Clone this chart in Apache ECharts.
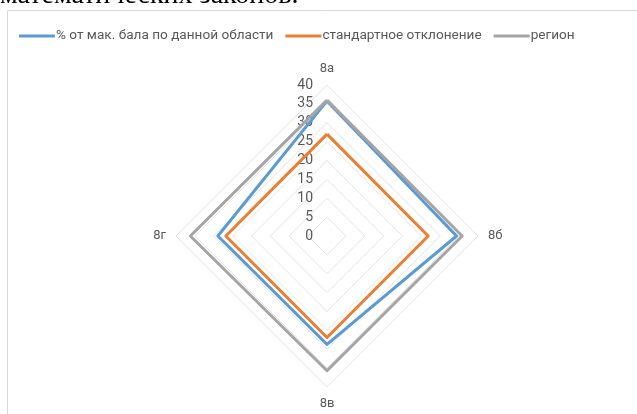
<!DOCTYPE html>
<html><head><meta charset="utf-8">
<script src="https://cdn.jsdelivr.net/npm/echarts@6/dist/echarts.min.js"></script>
<style>html,body{margin:0;padding:0;background:#fff}#c{width:637px;height:414px}</style>
</head><body><div id="c"></div>
<script>
const categories = ['8а', '8б', '8в', '8г'];
const seriesNames = ['% от мак. бала по данной области', 'стандартное отклонение', 'регион'];
const pctMax = [35.8, 34.3, 28.7, 28.9];
const stdDev = [27, 26.8, 26.9, 26.8];
const region = [36, 35.8, 35.7, 36.2];
const tickLabels = ['0', '5', '10', '15', '20', '25', '30', '35', '40'];
const colors = ['#5B9BD5', '#ED7D31', '#A5A5A5'];

// ECharts lays radar indicators counter-clockwise; Excel goes clockwise
const order = [0, 3, 2, 1];
const reorder = arr => order.map(i => arr[i]);

const indicators = order.map((i, k) => {
  const ind = { name: categories[i], min: 0, max: 40 };
  if (k === 0) ind.axisLabel = { show: true };
  return ind;
});

const chart = echarts.init(document.getElementById('c'), null, { renderer: 'canvas' });
chart.setOption({
  animation: false,
  backgroundColor: '#fff',
  color: colors,
  graphic: [
    { type: 'rect', shape: { x: 7.5, y: 10.5, width: 700, height: 500 }, style: { fill: 'none', stroke: '#d9d9d9', lineWidth: 1 }, silent: true },
    { type: 'text', x: 0, y: -4, style: { text: 'математических законов.', font: '28px "Liberation Serif"', fill: '#000', verticalAlign: 'middle', align: 'left' }, silent: true, z: 100 }
  ],
  legend: {
    left: 19, top: 29, padding: 0,
    itemWidth: 36, itemHeight: 3, itemGap: 12,
    icon: 'rect',
    textStyle: { color: '#595959', fontSize: 13.6, fontFamily: 'Roboto', padding: [0, 0, 0, -4] },
    data: seriesNames
  },
  radar: {
    center: [327, 236],
    radius: 151,
    splitNumber: 8,
    shape: 'polygon',
    indicator: indicators,
    axisName: { color: '#595959', fontSize: 13, fontFamily: 'Roboto' },
    nameGap: 10,
    splitLine: { lineStyle: { color: '#e3e3e3', width: 1 } },
    splitArea: { show: false },
    axisLine: { show: false },
    axisTick: { show: false },
    axisLabel: {
      show: false, color: '#595959', fontSize: 14, fontFamily: 'Roboto', margin: 14,
      formatter: (v) => tickLabels[Math.round(v / 5)] ?? ''
    }
  },
  series: [{
    type: 'radar',
    symbol: 'none',
    lineStyle: { width: 3 },
    data: [
      { name: seriesNames[0], value: reorder(pctMax), lineStyle: { color: colors[0], width: 3 }, itemStyle: { color: colors[0] } },
      { name: seriesNames[1], value: reorder(stdDev), lineStyle: { color: colors[1], width: 3 }, itemStyle: { color: colors[1] } },
      { name: seriesNames[2], value: reorder(region), lineStyle: { color: colors[2], width: 3 }, itemStyle: { color: colors[2] } }
    ]
  }]
});
</script></body></html>
